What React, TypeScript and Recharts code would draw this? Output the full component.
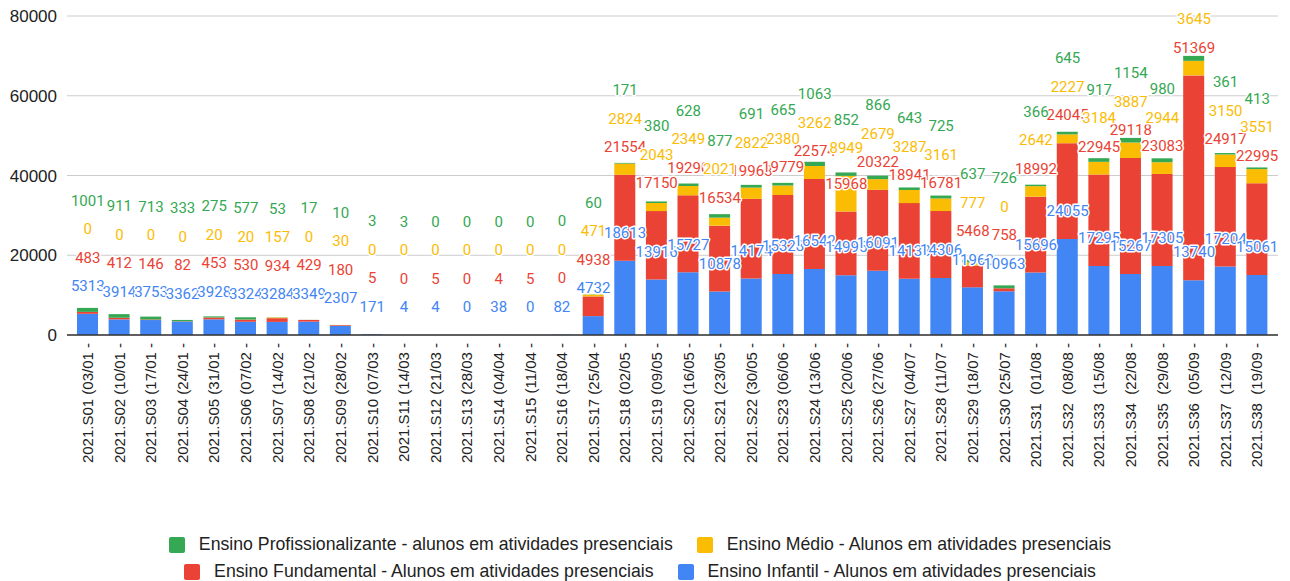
import { ComposedChart, Bar, Line, XAxis, YAxis, CartesianGrid, Legend, LabelList } from 'recharts';

const weeks = [
  '2021.S01 (03/01 -', '2021.S02 (10/01 -', '2021.S03 (17/01 -', '2021.S04 (24/01 -',
  '2021.S05 (31/01 -', '2021.S06 (07/02 -', '2021.S07 (14/02 -', '2021.S08 (21/02 -',
  '2021.S09 (28/02 -', '2021.S10 (07/03 -', '2021.S11 (14/03 -', '2021.S12 (21/03 -',
  '2021.S13 (28/03 -', '2021.S14 (04/04 -', '2021.S15 (11/04 -', '2021.S16 (18/04 -',
  '2021.S17 (25/04 -', '2021.S18 (02/05 -', '2021.S19 (09/05 -', '2021.S20 (16/05 -',
  '2021.S21 (23/05 -', '2021.S22 (30/05 -', '2021.S23 (06/06 -', '2021.S24 (13/06 -',
  '2021.S25 (20/06 -', '2021.S26 (27/06 -', '2021.S27 (04/07 -', '2021.S28 (11/07 -',
  '2021.S29 (18/07 -', '2021.S30 (25/07 -', '2021.S31  (01/08 -', '2021.S32  (08/08 -',
  '2021.S33  (15/08 -', '2021.S34  (22/08 -', '2021.S35  (29/08 -', '2021.S36  (05/09 -',
  '2021.S37  (12/09 -', '2021.S38  (19/09 -',
];

const infantil = [
  5313, 3914, 3753, 3362, 3928, 3324, 3284, 3349, 2307, 171, 4, 4, 0, 38, 0, 82,
  4732, 18613, 13916, 15727, 10878, 14174, 15328, 16542, 14995, 16091, 14133, 14306,
  11960, 10963, 15696, 24055, 17295, 15267, 17305, 13740, 17204, 15061,
];
const fundamental = [
  483, 412, 146, 82, 453, 530, 934, 429, 180, 5, 0, 5, 0, 4, 5, 0,
  4938, 21554, 17150, 19290, 16534, 19963, 19779, 22574, 15968, 20322, 18941, 16781,
  5468, 758, 18992, 24045, 22945, 29118, 23083, 51369, 24917, 22995,
];
const medio = [
  0, 0, 0, 0, 20, 20, 157, 0, 30, 0, 0, 0, 0, 0, 0, 0,
  471, 2824, 2043, 2349, 2021, 2822, 2380, 3262, 8949, 2679, 3287, 3161,
  777, 0, 2642, 2227, 3184, 3887, 2944, 3645, 3150, 3551,
];
const profissionalizante = [
  1001, 911, 713, 333, 275, 577, 53, 17, 10, 3, 3, 0, 0, 0, 0, 0,
  60, 171, 380, 628, 877, 691, 665, 1063, 852, 866, 643, 725,
  637, 726, 366, 645, 917, 1154, 980, 1245, 361, 413,
];

const yTicks = [0, 20000, 40000, 60000, 80000];

const SERIES = [
  { key: 'infantil', name: 'Ensino Infantil - Alunos em atividades presenciais', color: '#4285f4' },
  { key: 'fundamental', name: 'Ensino Fundamental - Alunos em atividades presenciais', color: '#ea4335' },
  { key: 'medio', name: 'Ensino Médio - Alunos em atividades presenciais', color: '#fbbc04' },
  { key: 'prof', name: 'Ensino Profissionalizante - alunos em atividades presenciais', color: '#34a853' },
];

const data = weeks.map((week, i) => ({
  week,
  infantil: infantil[i],
  fundamental: fundamental[i],
  medio: medio[i],
  prof: profissionalizante[i],
}));

// running total up to series k, carried by invisible lines that hold the labels
const stackTop = (k: number) => (d: any) =>
  SERIES.slice(0, k + 1).reduce((sum, s) => sum + d[s.key], 0);

// label y of each series per column, so the next series can avoid it
const labelY: number[][] = SERIES.map(() => []);

const seriesLabel = (k: number) => (props: any) => {
  const vb = props.viewBox ?? props;
  const i = props.index;
  const prev = k > 0 ? labelY[k - 1][i] : Infinity;
  const ly = Math.min(vb.y - 28, prev - 28.5);
  labelY[k][i] = ly;
  const s = SERIES[k];
  return (
    <text
      x={vb.x + (vb.width || 0) / 2}
      y={ly}
      dy="0.35em"
      textAnchor="middle"
      fontSize={15}
      fontFamily="Roboto, sans-serif"
      fill={s.color}
      stroke="#fff"
      strokeWidth={3}
      strokeLinejoin="round"
      paintOrder="stroke"
    >
      {(data[i] as any)[s.key]}
    </text>
  );
};

const WeekTick = (props: any) => {
  const { x, y, payload } = props;
  return (
    <text
      transform={`translate(${x},${y}) rotate(-90)`}
      textAnchor="end"
      dy="0.35em"
      fontSize={15}
      fontFamily="'Liberation Sans', Arial, sans-serif"
      fill="#222"
      style={{ whiteSpace: 'pre' }}
    >
      {payload.value}
    </text>
  );
};

const legendRows = [
  [SERIES[3], SERIES[2]],
  [SERIES[1], SERIES[0]],
];

const renderLegend = () => (
  <div
    style={{
      height: 56,
      boxSizing: 'border-box',
      overflow: 'visible',
      paddingTop: 6,
      paddingRight: 10,
      fontFamily: "'Liberation Sans', Arial, sans-serif",
      fontSize: 17.7,
      color: '#222',
    }}
  >
    {legendRows.map((row, r) => (
      <div
        key={r}
        style={{ display: 'flex', justifyContent: 'center', alignItems: 'center', height: 27 }}
      >
        {row.map((s, j) => (
          <div
            key={s.key}
            style={{ display: 'flex', alignItems: 'center', marginRight: j === 0 ? 24 : 0 }}
          >
            <span
              style={{
                width: 16,
                height: 16,
                borderRadius: 2,
                background: s.color,
                display: 'inline-block',
                marginRight: 14,
              }}
            />
            <span>{s.name}</span>
          </div>
        ))}
      </div>
    ))}
  </div>
);

export default function App() {
  return (
    <div style={{ position: 'absolute', left: 0, top: 0, background: '#fff' }}>
      <ComposedChart
        width={1290}
        height={581}
        data={data}
        margin={{ top: 16, right: 12, left: 0, bottom: 0 }}
      >
        <CartesianGrid vertical={false} stroke="#cccccc" />
        <XAxis
          dataKey="week"
          interval={0}
          height={190}
          padding={{ left: 5, right: 5 }}
          tick={<WeekTick />}
          tickLine={false}
          axisLine={{ stroke: '#333', strokeWidth: 1.5 }}
        />
        <YAxis
          width={67}
          domain={[0, 80000]}
          ticks={yTicks}
          axisLine={false}
          tickLine={false}
          tickMargin={4}
          tick={{ fill: '#222', fontSize: 17, fontFamily: "'Liberation Sans', Arial, sans-serif" }}
        />
        <Legend verticalAlign="bottom" content={renderLegend} wrapperStyle={{ left: 0, width: 1290 }} />
        {SERIES.map((s) => (
          <Bar
            key={s.key}
            dataKey={s.key}
            name={s.name}
            stackId="a"
            fill={s.color}
            barSize={21}
            isAnimationActive={false}
          />
        ))}
        {SERIES.map((s, k) => (
          <Line
            key={`top-${s.key}`}
            dataKey={stackTop(k)}
            stroke="none"
            dot={false}
            activeDot={false}
            legendType="none"
            isAnimationActive={false}
          >
            <LabelList content={seriesLabel(k)} />
          </Line>
        ))}
      </ComposedChart>
    </div>
  );
}
